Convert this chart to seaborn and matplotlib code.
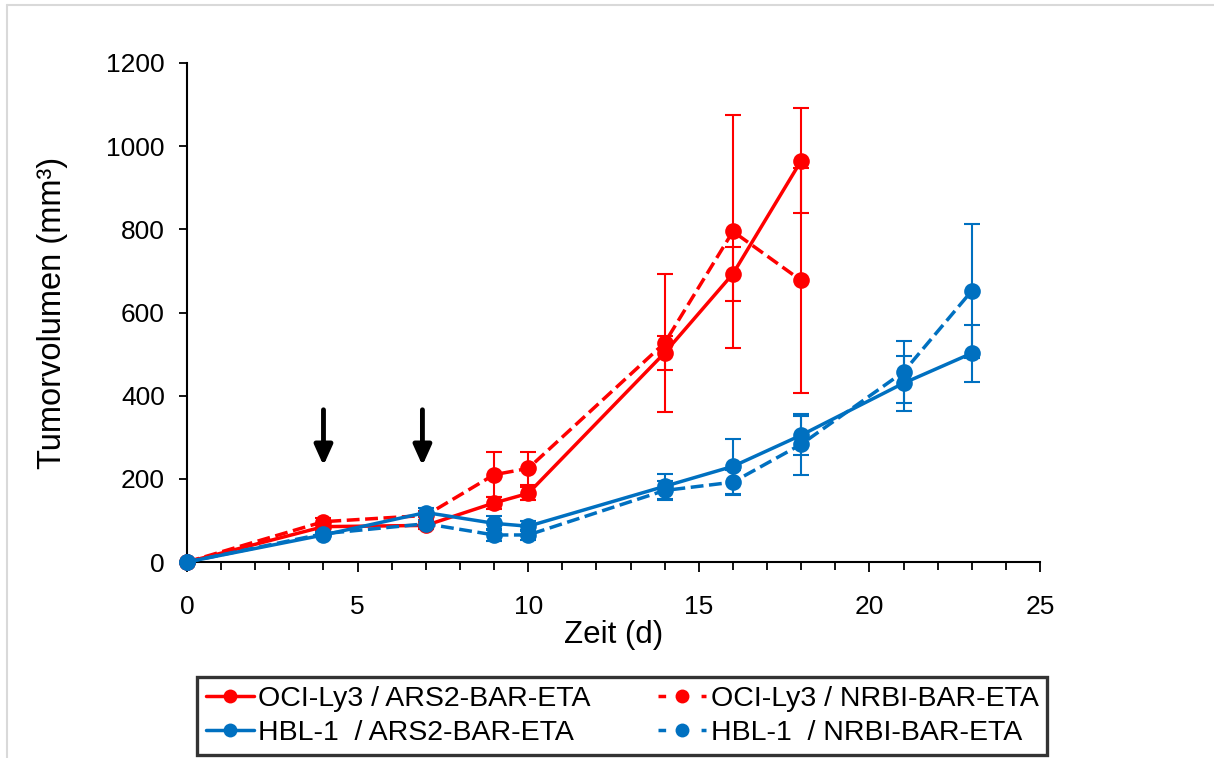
import numpy as np
import pandas as pd
import matplotlib
matplotlib.use("Agg")
import matplotlib.pyplot as plt
import seaborn as sns
from matplotlib.lines import Line2D
from matplotlib.ticker import MultipleLocator

# ---- data ----
days_oci = [0, 4, 7, 9, 10, 14, 16, 18]
oci_ars2 = [0, 85, 88, 142, 165, 503, 693, 965]
oci_ars2_err = [0, 8, 8, 15, 15, 41, 65, 126]
oci_nrbi = [0, 97, 112, 210, 225, 527, 795, 677]
oci_nrbi_err = [0, 8, 10, 54, 40, 166, 281, 271]

days_hbl = [0, 4, 7, 9, 10, 14, 16, 18, 21, 23]
hbl_ars2 = [0, 65, 119, 93, 86, 182, 230, 305, 430, 502]
hbl_ars2_err = [0, 5, 10, 17, 12, 30, 66, 47, 66, 69]
hbl_nrbi = [0, 68, 92, 65, 65, 172, 192, 283, 457, 652]
hbl_nrbi_err = [0, 5, 8, 15, 12, 22, 30, 74, 75, 161]

labels = ["OCI-Ly3 / ARS2-BAR-ETA", "OCI-Ly3 / NRBI-BAR-ETA",
          "HBL-1  / ARS2-BAR-ETA", "HBL-1  / NRBI-BAR-ETA"]
arrow_days = [4, 6.9]

RED = "#FF0000"
BLUE = "#0070C0"

sns.set_theme(style="white")
plt.rcParams['font.family'] = ['Liberation Sans', 'DejaVu Sans']
plt.rcParams['text.color'] = 'black'

fig = plt.figure(figsize=(12.14, 7.58), dpi=100)
ax = fig.add_axes([187/1214, 1-562/758, (1040-187)/1214, (562-63)/758])

series = [
    (days_oci, oci_ars2, oci_ars2_err, RED, "-", labels[0]),
    (days_oci, oci_nrbi, oci_nrbi_err, RED, "--", labels[1]),
    (days_hbl, hbl_ars2, hbl_ars2_err, BLUE, "-", labels[2]),
    (days_hbl, hbl_nrbi, hbl_nrbi_err, BLUE, "--", labels[3]),
]

handles = []
for x, y, e, c, ls, lab in series:
    df = pd.DataFrame({"x": x, "y": y})
    ax.errorbar(x, y, yerr=e, fmt="none", ecolor=c, elinewidth=1.5,
                capsize=6, capthick=1.5, zorder=2)
    sns.lineplot(data=df, x="x", y="y", ax=ax, color=c, marker="o",
                 markersize=12, markeredgewidth=0, linewidth=2.5,
                 linestyle=ls, dashes=False if ls == "-" else (4, 3),
                 zorder=3, legend=False, clip_on=False)
    handles.append(Line2D([0], [0], color=c, lw=2.5, linestyle=ls,
                          dashes=(None, None) if ls == "-" else (2.2, 4.0),
                          marker="o", markersize=10, markeredgewidth=0))

for d in arrow_days:
    ax.annotate("", xy=(d, 232), xytext=(d, 366),
                arrowprops=dict(arrowstyle="-|>,head_width=0.45,head_length=1.0",
                                lw=3.5, color="black", shrinkA=0, shrinkB=0))

ax.set_xlim(0, 25)
ax.set_ylim(0, 1200)
ax.set_xticks([0, 5, 10, 15, 20, 25])
ax.xaxis.set_minor_locator(MultipleLocator(1))
ax.set_yticks(range(0, 1201, 200))
ax.tick_params(axis="both", which="both", direction="out", color="black",
               labelsize=19, labelcolor="black", width=1.3)
ax.tick_params(axis="x", which="major", length=7, bottom=True, pad=17)
ax.tick_params(axis="x", which="minor", length=6, bottom=True)
ax.tick_params(axis="y", which="major", length=6, left=True, pad=10)
for s in ["top", "right"]:
    ax.spines[s].set_visible(False)
for s in ["left", "bottom"]:
    ax.spines[s].set_color("black")
    ax.spines[s].set_linewidth(1.5)
ax.set_xlabel("Zeit (d)", fontsize=22.5, color="black")
ax.set_ylabel("Tumorvolumen (mm³)", fontsize=23.5, color="black")
ax.xaxis.set_label_coords(0.5, (562-635)/499, transform=ax.transAxes)
ax.xaxis.label.set_va("center")
ax.yaxis.set_label_coords((52-187)/853, 0.5, transform=ax.transAxes)
ax.yaxis.label.set_va("center")
ax.grid(False)

order = [0, 2, 1, 3]
leg = fig.legend([handles[i] for i in order], [labels[i] for i in order],
                 ncol=2, loc="lower left",
                 bbox_to_anchor=(197/1214, 1-755/758, 850/1214, 83/758),
                 mode="expand", fontsize=20.5, frameon=True, fancybox=False,
                 edgecolor="black", handlelength=1.7, handletextpad=0.15,
                 borderaxespad=0, columnspacing=1.0, labelspacing=0.3,
                 borderpad=0.3, labelcolor="black")
leg.get_frame().set_linewidth(2.4)
leg.get_frame().set_edgecolor("black")

# light gray chart-area border (top and left visible)
fig.add_artist(Line2D([7/1214, 7/1214], [0, 1-5/758], color="#D9D9D9", lw=1.5,
                      transform=fig.transFigure))
fig.add_artist(Line2D([7/1214, 1], [1-5/758, 1-5/758], color="#D9D9D9", lw=1.5,
                      transform=fig.transFigure))

fig.savefig("out.png", dpi=100)
